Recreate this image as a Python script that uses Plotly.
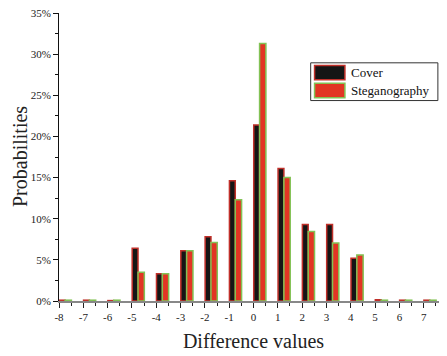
import plotly.graph_objects as go

diff_values = [-8, -7, -6, -5, -4, -3, -2, -1, 0, 1, 2, 3, 4, 5, 6, 7, 8]
cover = [0.1, 0.1, 0.05, 6.4, 3.3, 6.1, 7.8, 14.6, 21.4, 16.1, 9.3, 9.3, 5.2, 0.15, 0.1, 0.1, 0.0]
stego = [0.1, 0.1, 0.1, 3.5, 3.3, 6.1, 7.1, 12.3, 31.3, 15.0, 8.45, 7.05, 5.6, 0.1, 0.1, 0.1, 0.0]
x_ticks = list(range(-8, 9))
y_ticks = [0, 5, 10, 15, 20, 25, 30, 35]
series_names = ["Cover", "Steganography"]

FONT = "Liberation Serif, Times New Roman, serif"
COVER_FILL, COVER_LINE = "#151515", "#c0302a"
STEGO_FILL, STEGO_LINE = "#e23524", "#82c255"

fig = go.Figure()
fig.add_trace(go.Bar(
    x=diff_values, y=cover, name=series_names[0],
    offset=0.01, width=0.24, showlegend=False,
    marker=dict(color=COVER_FILL, line=dict(color=COVER_LINE, width=1.5)),
))
fig.add_trace(go.Bar(
    x=diff_values, y=stego, name=series_names[1],
    offset=0.25, width=0.26, showlegend=False,
    marker=dict(color=STEGO_FILL, line=dict(color=STEGO_LINE, width=1.5)),
))

# manual legend (paper coordinates)
fig.add_shape(type="rect", xref="paper", yref="paper", x0=0.647, x1=0.974, y0=0.696, y1=0.827,
              line=dict(color="#333", width=1), fillcolor="white", layer="above")
fig.add_shape(type="rect", xref="paper", yref="paper", x0=0.657, x1=0.735, y0=0.768, y1=0.818,
              line=dict(color=COVER_LINE, width=1.5), fillcolor=COVER_FILL, layer="above")
fig.add_shape(type="rect", xref="paper", yref="paper", x0=0.657, x1=0.735, y0=0.706, y1=0.756,
              line=dict(color=STEGO_LINE, width=1.5), fillcolor=STEGO_FILL, layer="above")
for name, yc in zip(series_names, [0.793, 0.731]):
    fig.add_annotation(text=name, xref="paper", yref="paper", x=0.745, y=yc,
                       xanchor="left", yanchor="middle", showarrow=False,
                       font=dict(size=13, family=FONT, color="#111"))

fig.update_layout(
    width=448, height=348,
    margin=dict(l=51, r=8, t=5, b=55),
    paper_bgcolor="white", plot_bgcolor="white",
    barmode="overlay",
    font=dict(family=FONT, color="#222"),
    xaxis=dict(
        range=[-8, 8], tickmode="array", tickvals=x_ticks,
        ticktext=[str(v) for v in x_ticks],
        showgrid=False, zeroline=False, automargin=False,
        showline=True, linecolor="#888", linewidth=1.5,
        ticks="outside", ticklen=5, tickcolor="#222", tickwidth=1,
        minor=dict(dtick=0.5, ticks="outside", ticklen=3, tickcolor="#222", showgrid=False),
        tickfont=dict(size=11, family=FONT, color="#222"),
        ticklabeloverflow="allow",
        title=dict(text="Difference values", font=dict(size=20, family=FONT, color="#222"), standoff=12),
    ),
    yaxis=dict(
        range=[0, 35], tickmode="array", tickvals=y_ticks,
        ticktext=[f"{v}%" for v in y_ticks],
        showgrid=False, zeroline=False, automargin=False,
        showline=True, linecolor="#111", linewidth=1,
        ticks="outside", ticklen=5, tickcolor="#111",
        minor=dict(dtick=2.5, ticks="outside", ticklen=3, tickcolor="#111", showgrid=False),
        tickfont=dict(size=11, family=FONT, color="#222"),
        ticklabeloverflow="allow",
        title=dict(text=""),
    ),
)
fig.add_annotation(text="Probabilities", xref="paper", yref="paper", x=0, y=0.5,
                   xanchor="center", yanchor="middle", xshift=-39, textangle=-90,
                   showarrow=False, font=dict(size=20, family=FONT, color="#222"))

fig.write_html("out.html")
